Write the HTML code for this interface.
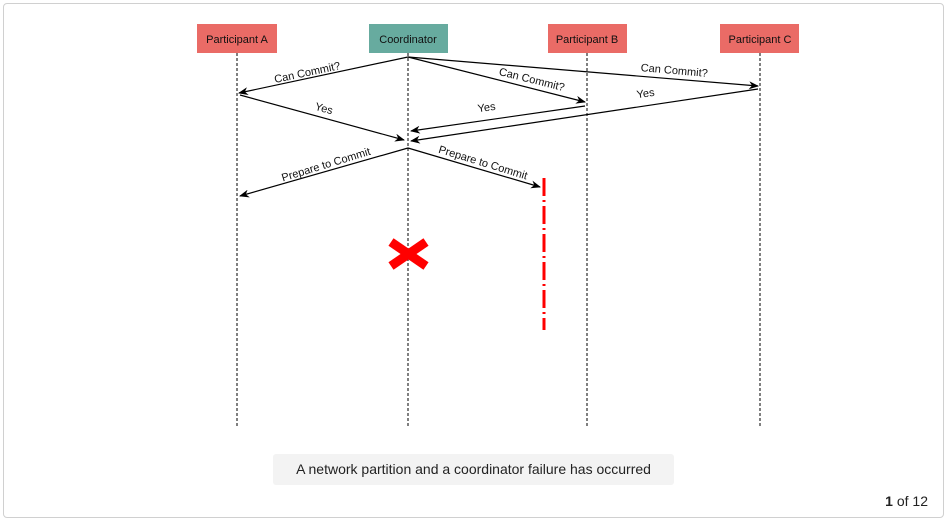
<!DOCTYPE html>
<html><head><style>
body{margin:0;width:950px;height:523px;background:#fff;overflow:hidden;font-family:"Liberation Sans",sans-serif}
.frame{position:absolute;left:3px;top:3px;width:941px;height:515px;border:1px solid #d0d0d0;border-radius:4px;box-sizing:border-box}
.cap{position:absolute;left:273px;top:454px;width:401px;height:31px;background:#f3f3f3;border-radius:3px;font-size:14px;line-height:31px;text-align:center;color:#222}
.pg{position:absolute;right:22px;top:493px;font-size:14px;color:#222}
</style></head><body>
<div class="frame"></div>
<svg width="950" height="523" style="position:absolute;left:0;top:0" font-family="Liberation Sans, sans-serif">
<defs><marker id="ar" markerWidth="10" markerHeight="8" refX="9" refY="4" orient="auto" markerUnits="userSpaceOnUse"><path d="M0,0 L10,4 L0,8 L3,4 z" fill="#000"/></marker></defs>
<g stroke="#000" stroke-dasharray="3,2" stroke-width="1">
<line x1="237" y1="53" x2="237" y2="428"/><line x1="408" y1="53" x2="408" y2="428"/>
<line x1="587" y1="53" x2="587" y2="428"/><line x1="760" y1="53" x2="760" y2="428"/>
</g>
<rect x="197" y="24" width="80" height="29" fill="#ea6b66"/>
<rect x="369" y="24" width="79" height="29" fill="#67ab9f"/>
<rect x="548" y="24" width="79" height="29" fill="#ea6b66"/>
<rect x="720" y="24" width="79" height="29" fill="#ea6b66"/>
<g font-size="11" text-anchor="middle" fill="#111">
<text x="237" y="43">Participant A</text><text x="408" y="43">Coordinator</text>
<text x="587" y="43">Participant B</text><text x="760" y="43">Participant C</text>
</g>
<g stroke="#000" stroke-width="1.2" fill="none" marker-end="url(#ar)">
<line x1="408" y1="57" x2="239" y2="93"/>
<line x1="408" y1="57" x2="585" y2="102"/>
<line x1="408" y1="57" x2="758" y2="86"/>
<line x1="240" y1="95" x2="404" y2="140"/>
<line x1="585" y1="106" x2="411" y2="131"/>
<line x1="758" y1="89" x2="411" y2="141"/>
<line x1="408" y1="148" x2="240" y2="196"/>
<line x1="408" y1="148" x2="540" y2="187"/>
</g>
<g font-size="11" fill="#111" text-anchor="middle">
<text transform="translate(308,76) rotate(-12)">Can Commit?</text>
<text transform="translate(531,83) rotate(14)">Can Commit?</text>
<text transform="translate(674,74) rotate(5)">Can Commit?</text>
<text transform="translate(323,112) rotate(15)">Yes</text>
<text transform="translate(487,111) rotate(-8)">Yes</text>
<text transform="translate(646,97) rotate(-8)">Yes</text>
<text transform="translate(327,168) rotate(-17)">Prepare to Commit</text>
<text transform="translate(482,166) rotate(17)">Prepare to Commit</text>
</g>
<line x1="544" y1="178" x2="544" y2="330" stroke="#f00" stroke-width="3" stroke-dasharray="18,4,2,4"/>
<g stroke="#f00" stroke-width="9" stroke-linecap="butt">
<line x1="391" y1="242" x2="426" y2="266"/><line x1="426" y1="242" x2="391" y2="266"/>
</g>
</svg>
<div class="cap">A network partition and a coordinator failure has occurred</div>
<div class="pg"><b>1</b> of 12</div>
</body></html>
